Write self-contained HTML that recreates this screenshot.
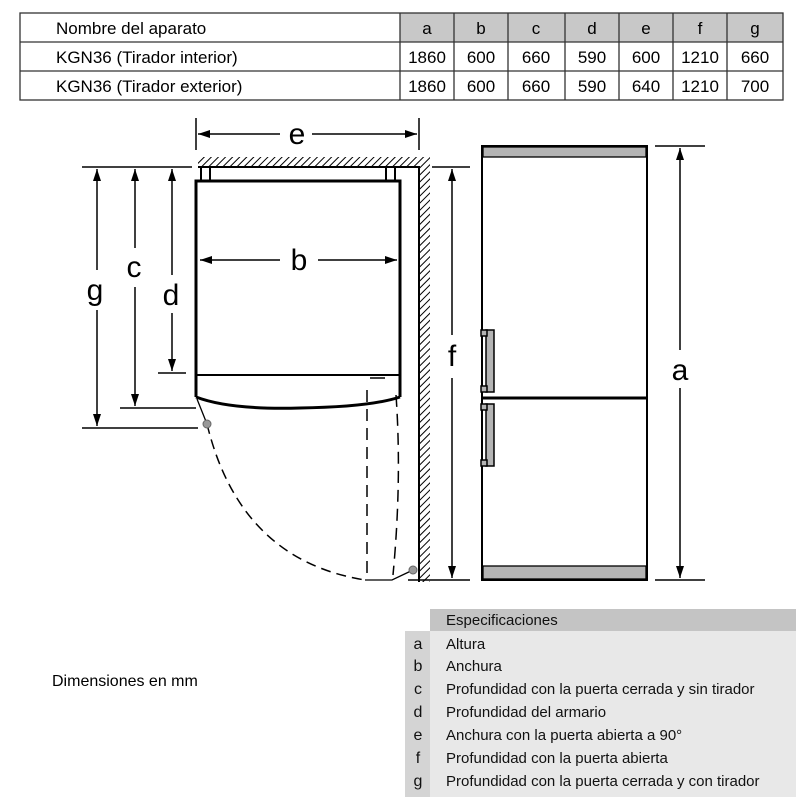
<!DOCTYPE html>
<html><head><meta charset="utf-8"><style>
body{margin:0;background:#fff;width:800px;height:800px;overflow:hidden;font-family:"Liberation Sans",Arial,sans-serif}
</style></head><body>
<svg width="800" height="800" xmlns="http://www.w3.org/2000/svg" font-family="Liberation Sans, Arial, sans-serif">
<defs>
<pattern id="h" width="5" height="5" patternUnits="userSpaceOnUse" patternTransform="rotate(45)"><line x1="0" y1="0" x2="0" y2="5" stroke="#000" stroke-width="2"/></pattern>
<marker id="ar" markerWidth="12" markerHeight="8" refX="12" refY="4" orient="auto-start-reverse" markerUnits="userSpaceOnUse"><path d="M0,0 L12,4 L0,8z" fill="#000"/></marker>
</defs>
<!-- top table -->
<rect x="400" y="13" width="383" height="29" fill="#c8c8c8"/>
<g stroke="#333" stroke-width="1.3" fill="none">
<rect x="20" y="13" width="763" height="87"/>
<line x1="20" y1="42" x2="783" y2="42"/><line x1="20" y1="71" x2="783" y2="71"/>
<line x1="400" y1="13" x2="400" y2="100"/><line x1="454" y1="13" x2="454" y2="100"/><line x1="508" y1="13" x2="508" y2="100"/><line x1="565" y1="13" x2="565" y2="100"/><line x1="619" y1="13" x2="619" y2="100"/><line x1="673" y1="13" x2="673" y2="100"/><line x1="727" y1="13" x2="727" y2="100"/>
</g>
<g font-size="17" fill="#000">
<text x="56" y="34">Nombre del aparato</text>
<text x="56" y="63">KGN36 (Tirador interior)</text>
<text x="56" y="92">KGN36 (Tirador exterior)</text>
<g text-anchor="middle">
<text x="427" y="34">a</text><text x="481" y="34">b</text><text x="536" y="34">c</text><text x="592" y="34">d</text><text x="646" y="34">e</text><text x="700" y="34">f</text><text x="755" y="34">g</text>
<text x="427" y="63">1860</text><text x="481" y="63">600</text><text x="536" y="63">660</text><text x="592" y="63">590</text><text x="646" y="63">600</text><text x="700" y="63">1210</text><text x="755" y="63">660</text>
<text x="427" y="92">1860</text><text x="481" y="92">600</text><text x="536" y="92">660</text><text x="592" y="92">590</text><text x="646" y="92">640</text><text x="700" y="92">1210</text><text x="755" y="92">700</text>
</g></g>
<!-- wall -->
<rect x="198" y="157" width="232" height="10" fill="url(#h)"/>
<rect x="419" y="167" width="11" height="415" fill="url(#h)"/>
<polyline points="198,167 419,167 419,582" fill="none" stroke="#000" stroke-width="2"/>
<!-- e -->
<g stroke="#000" stroke-width="1.5">
<line x1="196" y1="118" x2="196" y2="150"/><line x1="419" y1="118" x2="419" y2="150"/>
<line x1="198" y1="134" x2="280" y2="134" marker-start="url(#ar)"/><line x1="312" y1="134" x2="417" y2="134" marker-end="url(#ar)"/>
</g>
<text x="297" y="144" font-size="30" text-anchor="middle">e</text>
<!-- fridge top view -->
<rect x="201" y="167" width="9" height="14" fill="#fff" stroke="#000" stroke-width="2"/>
<rect x="386" y="167" width="9" height="14" fill="#fff" stroke="#000" stroke-width="2"/>
<path d="M196,397 L196,181 L400,181 L400,397" fill="none" stroke="#000" stroke-width="3"/>
<line x1="196" y1="375" x2="400" y2="375" stroke="#000" stroke-width="2"/>
<path d="M196,397 Q230,410 300,408 Q370,407 400,397" fill="none" stroke="#000" stroke-width="3"/>
<g stroke="#000" stroke-width="1.5">
<line x1="200" y1="260" x2="280" y2="260" marker-start="url(#ar)"/><line x1="318" y1="260" x2="397" y2="260" marker-end="url(#ar)"/>
</g>
<text x="299" y="270" font-size="30" text-anchor="middle">b</text>
<!-- door swing -->
<line x1="197" y1="399" x2="207" y2="424" stroke="#000" stroke-width="1.3"/>
<path d="M207,424 Q240,560 365,580" fill="none" stroke="#000" stroke-width="1.5" stroke-dasharray="10,6"/>
<polyline points="365,580 392,580 413,570" fill="none" stroke="#000" stroke-width="1.3"/>
<circle cx="207" cy="424" r="4" fill="#999" stroke="#666"/>
<circle cx="413" cy="570" r="4" fill="#999" stroke="#666"/>
<line x1="370" y1="378" x2="385" y2="378" stroke="#000" stroke-width="1.5"/>
<line x1="367" y1="390" x2="367" y2="575" stroke="#000" stroke-width="1.5" stroke-dasharray="12,7"/>
<path d="M396,395 Q402,480 393,575" fill="none" stroke="#000" stroke-width="1.5" stroke-dasharray="12,7"/>
<!-- f -->
<g stroke="#000" stroke-width="1.5">
<line x1="432" y1="167" x2="470" y2="167"/><line x1="408" y1="580" x2="470" y2="580"/>
<line x1="452" y1="169" x2="452" y2="335" marker-start="url(#ar)"/><line x1="452" y1="378" x2="452" y2="578" marker-end="url(#ar)"/>
</g>
<text x="452" y="366" font-size="30" text-anchor="middle">f</text>
<!-- left dims -->
<g stroke="#000" stroke-width="1.5">
<line x1="82" y1="167" x2="192" y2="167"/>
<line x1="158" y1="373" x2="186" y2="373"/>
<line x1="120" y1="408" x2="196" y2="408"/>
<line x1="82" y1="428" x2="198" y2="428"/>
<line x1="97" y1="169" x2="97" y2="270" marker-start="url(#ar)"/><line x1="97" y1="310" x2="97" y2="426" marker-end="url(#ar)"/>
<line x1="135" y1="169" x2="135" y2="248" marker-start="url(#ar)"/><line x1="135" y1="287" x2="135" y2="406" marker-end="url(#ar)"/>
<line x1="172" y1="169" x2="172" y2="275" marker-start="url(#ar)"/><line x1="172" y1="313" x2="172" y2="371" marker-end="url(#ar)"/>
</g>
<g font-size="30" text-anchor="middle"><text x="95" y="300">g</text><text x="134" y="277">c</text><text x="171" y="305">d</text></g>
<!-- front fridge -->
<rect x="482" y="146" width="165" height="434" fill="#fff" stroke="#000" stroke-width="2"/>
<rect x="483" y="147" width="163" height="10" fill="#b4b4b4" stroke="#000" stroke-width="1.3"/>
<rect x="483" y="566" width="163" height="13" fill="#b4b4b4" stroke="#000" stroke-width="1.3"/>
<line x1="482" y1="398" x2="647" y2="398" stroke="#000" stroke-width="3"/>
<g fill="#b4b4b4" stroke="#000" stroke-width="1.5">
<rect x="486" y="330" width="8" height="62"/><rect x="481" y="330" width="6" height="6"/><rect x="481" y="386" width="6" height="6"/>
<rect x="486" y="404" width="8" height="62"/><rect x="481" y="404" width="6" height="6"/><rect x="481" y="460" width="6" height="6"/>
</g>
<g stroke="#000" stroke-width="1.5">
<line x1="655" y1="146" x2="705" y2="146"/><line x1="655" y1="580" x2="705" y2="580"/>
<line x1="680" y1="148" x2="680" y2="350" marker-start="url(#ar)"/><line x1="680" y1="388" x2="680" y2="578" marker-end="url(#ar)"/>
</g>
<text x="680" y="380" font-size="30" text-anchor="middle">a</text>
<!-- specs -->
<rect x="405" y="631" width="25" height="166" fill="#d4d4d4"/>
<rect x="430" y="609" width="366" height="22" fill="#c4c4c4"/>
<rect x="430" y="631" width="366" height="166" fill="#e8e8e8"/>
<g font-size="15" fill="#111">
<text x="446" y="625">Especificaciones</text>
<text x="446" y="649">Altura</text>
<text x="446" y="671">Anchura</text>
<text x="446" y="694">Profundidad con la puerta cerrada y sin tirador</text>
<text x="446" y="717">Profundidad del armario</text>
<text x="446" y="740">Anchura con la puerta abierta a 90°</text>
<text x="446" y="763">Profundidad con la puerta abierta</text>
<text x="446" y="786">Profundidad con la puerta cerrada y con tirador</text>
<g text-anchor="middle" font-size="16"><text x="418" y="649">a</text><text x="418" y="671">b</text><text x="418" y="694">c</text><text x="418" y="717">d</text><text x="418" y="740">e</text><text x="418" y="763">f</text><text x="418" y="786">g</text></g>
</g>
<text x="52" y="686" font-size="16">Dimensiones en mm</text>
</svg>
</body></html>
